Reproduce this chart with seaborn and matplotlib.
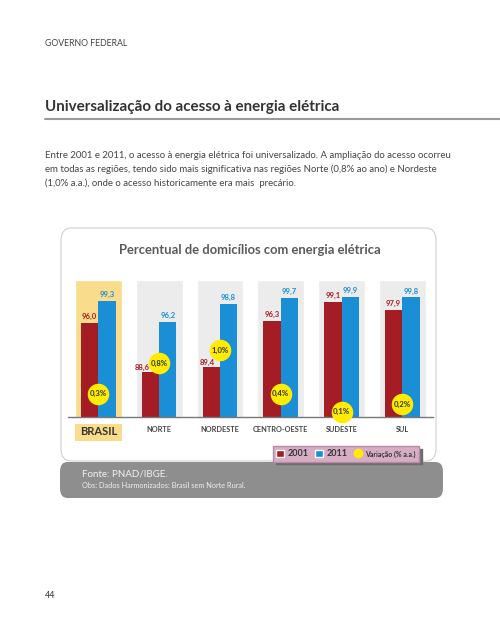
import matplotlib
matplotlib.use("Agg")
import matplotlib.pyplot as plt
from matplotlib.patches import FancyBboxPatch, Rectangle, Patch
from matplotlib.lines import Line2D
import seaborn as sns
import pandas as pd

regioes = ["BRASIL", "NORTE", "NORDESTE", "CENTRO-OESTE", "SUDESTE", "SUL"]
v2001 = [96.0, 88.6, 89.4, 96.3, 99.1, 97.9]
v2011 = [99.3, 96.2, 98.8, 99.7, 99.9, 99.8]
variacao = ["0,3%", "0,8%", "1,0%", "0,4%", "0,1%", "0,2%"]
# altura (no eixo) onde fica cada bolinha amarela
circ_y = [85.4, 90.0, 91.9, 85.4, 82.75, 83.85]

red = "#a51d24"
blue = "#1a8fd6"
yellow = "#ffec00"

sns.set_style("white")
plt.rcParams["font.family"] = ["Lato", "DejaVu Sans"]

df = pd.DataFrame({"regiao": regioes * 2,
                   "ano": ["2001"] * 6 + ["2011"] * 6,
                   "valor": v2001 + v2011})

W, H = 500, 625
def fx(x):
    return x / W
def fy(y):
    return 1 - y / H

fig = plt.figure(figsize=(5, 6.25), dpi=100)

# cabecalho da pagina
fig.text(fx(45), fy(44), "GOVERNO FEDERAL", fontsize=6.3, color="#444444", va="center")
fig.text(fx(45), fy(107), "Universalização do acesso à energia elétrica", fontsize=10.9,
         fontweight="bold", color="#333333", va="center")
fig.add_artist(Line2D([fx(45), fx(500)], [fy(119), fy(119)], color="#9a9a9a", lw=1.5,
                      transform=fig.transFigure))
corpo = ["Entre 2001 e 2011, o acesso à energia elétrica foi universalizado. A ampliação do acesso ocorreu",
         "em todas as regiões, tendo sido mais significativa nas regiões Norte (0,8% ao ano) e Nordeste",
         "(1,0% a.a.), onde o acesso historicamente era mais  precário."]
for i, linha in enumerate(corpo):
    fig.text(fx(45), fy(155 + 14 * i), linha, fontsize=6.9, color="#444444", va="center")
fig.text(fx(45), fy(596), "44", fontsize=6.5, color="#333333", va="center")

# painel do grafico
fig.add_artist(FancyBboxPatch((fx(60), fy(498)), fx(443) - fx(60), fy(462) - fy(498),
                              boxstyle="round,pad=0,rounding_size=0.015",
                              facecolor="#8e8e8e", edgecolor="none",
                              transform=fig.transFigure, zorder=0))
fig.add_artist(FancyBboxPatch((fx(61), fy(461)), fx(436) - fx(61), fy(228) - fy(461),
                              boxstyle="round,pad=0,rounding_size=0.02",
                              facecolor="white", edgecolor="#cfcfcf", lw=0.8,
                              transform=fig.transFigure, zorder=0))
fig.text(fx(250), fy(250), "Percentual de domicílios com energia elétrica", fontsize=9.4,
         fontweight="bold", color="#5a5a5a", ha="center", va="center")
fig.text(fx(82), fy(474), "Fonte: PNAD/IBGE.", fontsize=7, color="#f2f2f2", va="center")
fig.text(fx(82), fy(486), "Obs: Dados Harmonizados: Brasil sem Norte Rural.", fontsize=5.3,
         color="#eeeeee", va="center")

ax = fig.add_axes([fx(68), fy(416.7), fx(432.7) - fx(68), fy(280) - fy(416.7)])
ax.set_facecolor("none")

# colunas de fundo
fundo = ["#f9dc8c"] + ["#ececec"] * 5
ax.bar(range(len(regioes)), [102.4 - 82] * 6, bottom=82, width=0.77, color=fundo, zorder=0)

sns.barplot(data=df, x="regiao", y="valor", hue="ano", palette=[red, blue], saturation=1,
            width=0.57, linewidth=0, ax=ax, zorder=2, legend=False)

for cont, cor in zip(ax.containers[-2:], [red, blue]):
    anns = ax.bar_label(cont, labels=[f"{v:.1f}".replace(".", ",") for v in cont.datavalues],
                        padding=2, fontsize=5.5, fontweight="bold", color=cor)
    if cor == red:
        # rotulos do Norte e Nordeste ficam a esquerda da bolinha
        anns[1].xyann = (-6, 1)
        anns[2].xyann = (-3, 1)

ax.scatter(range(len(regioes)), circ_y, s=210, color=yellow, zorder=4, clip_on=False)
for i, t in enumerate(variacao):
    ax.text(i, circ_y[i], t, ha="center", va="center", fontsize=5.6, fontweight="bold",
            color="#333333", zorder=5, clip_on=False)

ax.set_ylim(82, 102.4)
ax.set_xlim(-0.5, len(regioes) - 0.5)
ax.set_yticks([])
ax.set_xlabel("")
ax.set_ylabel("")
for s in ["top", "right", "left"]:
    ax.spines[s].set_visible(False)
ax.spines["bottom"].set_color("#777777")
ax.spines["bottom"].set_linewidth(1.0)
ax.set_xticks(range(len(regioes)))
ax.set_xticklabels(regioes)
ax.set_xticks([i + 0.5 for i in range(-1, len(regioes))], minor=True)
ax.tick_params(axis="x", which="major", length=0, pad=7)
ax.tick_params(axis="x", which="minor", length=4, color="#777777", width=0.8)
for lab in ax.get_xticklabels():
    lab.set_fontweight("bold")
    lab.set_color("#444444")
    lab.set_fontsize(5.3)
brasil = ax.get_xticklabels()[0]
brasil.set_fontsize(8)
brasil.set_color("#333333")
ax.add_patch(Rectangle((-0.385, 78.35), 0.77, 2.5, facecolor="#f9dc8c", edgecolor="none",
                       clip_on=False, zorder=0))

# legenda
handles = [Patch(facecolor=red, label="2001"), Patch(facecolor=blue, label="2011"),
           Line2D([], [], marker="o", ls="", color=yellow, markersize=6, label="Variação (% a.a.)")]
leg = fig.legend(handles=handles, loc="center", bbox_to_anchor=(fx(346), fy(454)), ncol=3,
                 fontsize=6.5, frameon=True, handlelength=0.9, handleheight=0.9,
                 handletextpad=0.3, columnspacing=0.8, borderpad=0.35, fancybox=False,
                 shadow={"color": "#6e6e6e", "alpha": 1.0})
leg.get_frame().set_facecolor("#d7adc5")
leg.get_frame().set_edgecolor("#b88aa5")
leg.get_frame().set_alpha(1)
for t in leg.get_texts():
    t.set_fontweight("bold")
    t.set_color("#333333")
leg.get_texts()[2].set_fontsize(5)

fig.savefig("out.png", dpi=100)
